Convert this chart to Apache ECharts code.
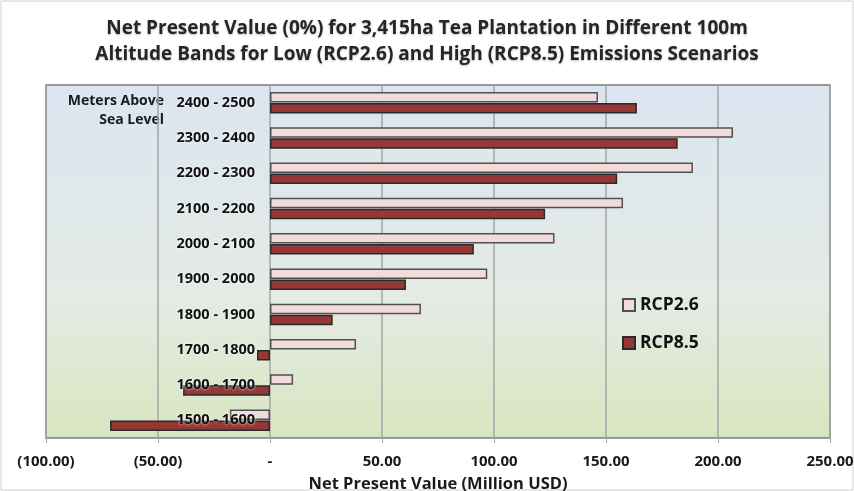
<!DOCTYPE html>
<html>
<head>
<meta charset="utf-8">
<script src="https://cdn.jsdelivr.net/npm/echarts@6/dist/echarts.min.js"></script>
<style>
  html, body { margin: 0; padding: 0; background: #fff; }
  #chart { width: 854px; height: 491px; }
</style>
</head>
<body>
<div id="chart"></div>
<script>
// altitude bands, top to bottom as in the picture
const bands = ['2400 - 2500', '2300 - 2400', '2200 - 2300', '2100 - 2200', '2000 - 2100',
  '1900 - 2000', '1800 - 1900', '1700 - 1800', '1600 - 1700', '1500 - 1600']
const rcp26 = [146.4, 206.7, 188.8, 157.6, 127, 97, 67.4, 38.4, 10.3, -17.9]
const rcp85 = [163.8, 182, 155, 122.8, 91, 60.7, 28, -5.8, -38.8, -71.4]

const FONT = '"Open Sans", "Noto Sans", sans-serif'
const NARROW = '"Liberation Sans Narrow", "Open Sans", sans-serif'

// excel style: (50.00), -, 50.00
function fmt(v) {
  if (v === 0) return '-'
  const s = Math.abs(v).toFixed(2)
  return v < 0 ? '(' + s + ')' : s
}

const chart = echarts.init(document.getElementById('chart'))

chart.setOption({
  animation: false,
  title: {
    text: 'Net Present Value (0%) for 3,415ha Tea Plantation in Different 100m\nAltitude Bands for Low (RCP2.6) and High (RCP8.5) Emissions Scenarios',
    left: 'center',
    top: 11,
    textStyle: {
      fontFamily: FONT, fontSize: 19, fontWeight: 'bold', color: '#262626',
      lineHeight: 26, textShadowColor: 'rgba(0,0,0,0.25)', textShadowBlur: 2, textShadowOffsetY: 1
    }
  },
  legend: {
    data: ['RCP2.6', 'RCP8.5'],
    orient: 'vertical',
    left: 617,
    top: 291,
    itemWidth: 12,
    itemHeight: 12,
    itemGap: 20,
    icon: 'rect',
    textStyle: { fontFamily: FONT, fontSize: 17.5, fontWeight: 'bold', color: '#111' }
  },
  graphic: [
    {
      type: 'text',
      right: 854 - 164,
      top: 92,
      style: {
        text: 'Meters Above\nSea Level',
        textAlign: 'right',
        font: 'bold 14px ' + FONT,
        lineHeight: 19,
        fill: '#1a1a1a'
      }
    },
    {
      type: 'rect',
      shape: { x: 1, y: 1, width: 852, height: 489 },
      style: { fill: 'none', stroke: '#d0d0d0', lineWidth: 1 },
      silent: true
    }
  ],
  grid: {
    left: 46, right: 24, top: 85, bottom: 53,
    containLabel: false,
    outerBoundsMode: 'none',
    show: true,
    borderColor: '#7a7a7a',
    borderWidth: 1.5,
    backgroundColor: new echarts.graphic.LinearGradient(0, 0, 0, 1, [
      { offset: 0, color: '#dae5f1' },
      { offset: 0.6, color: '#e4ebe4' },
      { offset: 1, color: '#d8e6bf' }
    ])
  },
  xAxis: {
    type: 'value',
    min: -100,
    max: 250,
    interval: 50,
    name: 'Net Present Value (Million USD)',
    nameLocation: 'middle',
    nameGap: 38,
    nameTextStyle: { fontFamily: FONT, fontSize: 16.5, fontWeight: 'bold', color: '#1a1a1a' },
    axisLine: { show: true, lineStyle: { color: '#a0a0a0', width: 1 } },
    axisTick: { show: true, length: 5, lineStyle: { color: '#a0a0a0' } },
    axisLabel: {
      fontFamily: NARROW, fontSize: 15, fontWeight: 'bold', color: '#1a1a1a', margin: 16,
      formatter: fmt
    },
    splitLine: { show: true, lineStyle: { color: '#a6a6a6', width: 1.5 } }
  },
  yAxis: {
    type: 'category',
    data: bands,
    inverse: true,
    z: 10,
    // move the axis onto the zero line
    offset: -224,
    axisLine: { show: false },
    axisTick: { show: false },
    axisLabel: {
      fontFamily: FONT, fontSize: 14.5, fontWeight: 'bold', color: '#111', margin: 15,
      textShadowColor: '#fff', textShadowBlur: 3
    }
  },
  series: [
    {
      name: 'RCP2.6',
      type: 'bar',
      data: rcp26,
      barWidth: 10.5,
      barGap: '5%',
      itemStyle: { color: '#f2dcdb', borderColor: '#505050', borderWidth: 1.5 }
    },
    {
      name: 'RCP8.5',
      type: 'bar',
      data: rcp85,
      barWidth: 10.5,
      itemStyle: { color: '#953735', borderColor: '#2a2a2a', borderWidth: 1.5 }
    }
  ]
})
</script>
</body>
</html>
